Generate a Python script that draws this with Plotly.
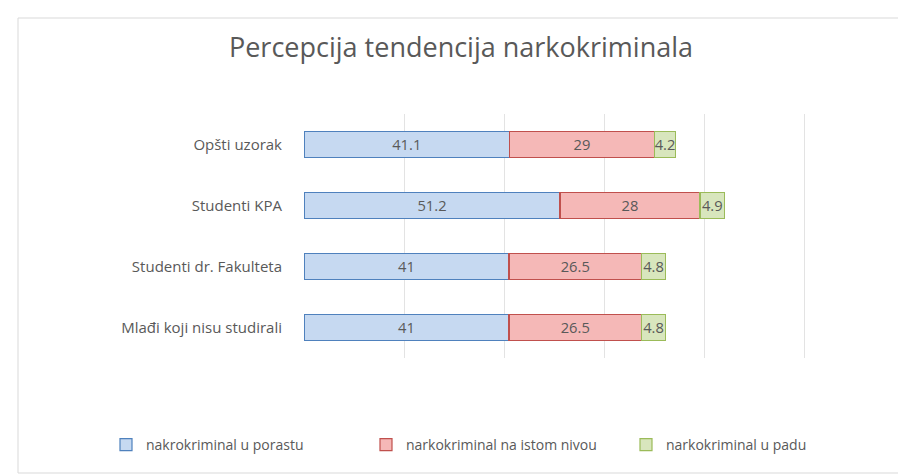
import plotly.graph_objects as go

categories = ["Opšti uzorak", "Studenti KPA", "Studenti dr. Fakulteta", "Mlađi koji nisu studirali"]
series_names = ["nakrokriminal u porastu", "narkokriminal na istom nivou", "narkokriminal u padu"]
porast = [41.1, 51.2, 41, 41]
isti_nivo = [29, 28, 26.5, 26.5]
pad = [4.2, 4.9, 4.8, 4.8]

fills = ["#c6d9f1", "#f5b8b7", "#d8e6bd"]
borders = ["#4f81bd", "#c0504d", "#9bbb59"]
FONT = "Open Sans, sans-serif"
GRAY = "#595959"

# plot area geometry (px)
L, R, T, B = 296, 105, 106, 125
W, H = 906, 475
PW, PH = W - L - R, H - T - B

fig = go.Figure()
for name, vals, fc, bc in zip(series_names, [porast, isti_nivo, pad], fills, borders):
    fig.add_trace(go.Bar(
        y=categories, x=vals, name=name, orientation="h",
        marker=dict(color=fc, line=dict(color=bc, width=1.2)),
        text=[f"{v:g}" for v in vals], textposition="inside", insidetextanchor="middle",
        textangle=0,
        textfont=dict(color=GRAY, size=15, family=FONT),
        width=0.42,
    ))

fig.update_layout(
    barmode="stack",
    width=W, height=H,
    margin=dict(l=L, r=R, t=T, b=B),
    paper_bgcolor="white", plot_bgcolor="white",
    title=dict(text="Percepcija tendencija narkokriminala", x=0.5, xanchor="center",
               xref="container",
               y=1 - 40 / H, yanchor="middle", yref="container",
               font=dict(family=FONT, size=27, color=GRAY)),
    font=dict(family=FONT, color=GRAY, size=14),
    uniformtext=dict(minsize=14, mode="show"),
    legend=dict(orientation="h", x=(98 - L) / PW, xanchor="left",
                y=(H - B - 437) / PH, yanchor="middle",
                font=dict(size=14, color=GRAY, family=FONT),
                traceorder="normal", itemwidth=30,
                entrywidth=215, entrywidthmode="pixels"),
    showlegend=True,
    shapes=[dict(type="rect", xref="paper", yref="paper",
                 x0=(10 - L) / PW, x1=(896 - L) / PW,
                 y0=(H - B - 465) / PH,
                 y1=(H - B - 10) / PH,
                 line=dict(color="#d9d9d9", width=1), layer="below")],
)
fig.update_xaxes(range=[0, 101], dtick=20, showgrid=True, gridcolor="#e3e3e3", gridwidth=1,
                 showticklabels=False, zeroline=False, showline=False)
fig.update_yaxes(autorange="reversed", showgrid=False, ticks="outside", ticklen=18,
                 tickcolor="rgba(0,0,0,0)", tickfont=dict(size=15, color=GRAY, family=FONT),
                 showline=False)

fig.write_html("out.html")
